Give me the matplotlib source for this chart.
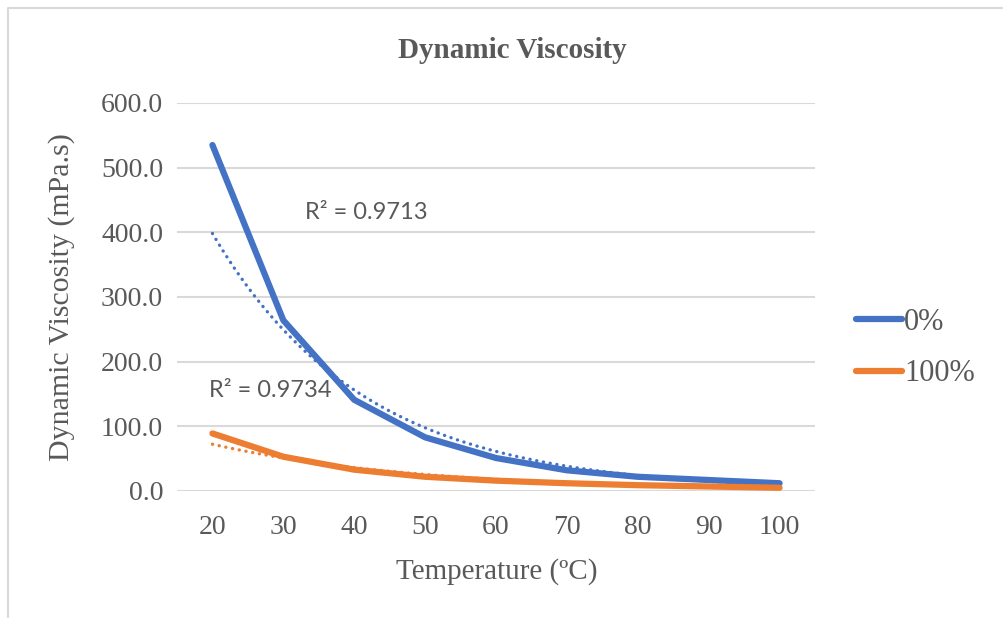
import numpy as np
import matplotlib.pyplot as plt
from matplotlib.lines import Line2D

temps = [20, 30, 40, 50, 60, 70, 80, 90, 100]
visc_0 = [535, 264, 141, 83, 51, 32, 22, 17, 12]
visc_100 = [89, 53, 33, 22, 16, 12, 9, 7, 5]
series_names = ["0%", "100%"]
r2_labels = ["R² = 0.9713", "R² = 0.9734"]
y_ticks = [0, 100, 200, 300, 400, 500, 600]

blue = "#4472C4"
orange = "#ED7D31"
grey = "#595959"
serif = "Liberation Serif"

fig = plt.figure(figsize=(10.04, 6.18), dpi=100)
ax = fig.add_axes([177 / 1004, 1 - 491 / 618, (815 - 177) / 1004, (491 - 103) / 618])

x = np.array(temps)
for ys, col in [(visc_0, blue), (visc_100, orange)]:
    ys = np.array(ys, dtype=float)
    # exponential trendline like Excel (fit on ln y)
    b, a = np.polyfit(x, np.log(ys), 1)
    xf = np.linspace(x[0], x[-1], 200)
    ax.plot(xf, np.exp(a + b * xf), color=col, lw=2.4, ls=(0, (0.05, 2.0)),
            dash_capstyle="round", zorder=3)
    ax.plot(x, ys, color=col, lw=4.5, solid_capstyle="round",
            solid_joinstyle="round", zorder=4)

ax.text(33, 430, r2_labels[0], fontsize=17, family="Lato", color=grey,
        ha="left", va="center")
ax.text(19.5, 155, r2_labels[1], fontsize=17, family="Lato", color=grey,
        ha="left", va="center")

ax.set_xlim(15, 105)
ax.set_ylim(0, 600)
ax.set_xticks(temps)
ax.set_yticks(y_ticks)
ax.set_yticklabels([f"{v:.1f}" for v in y_ticks])
ax.grid(axis="y", color="#D9D9D9", lw=1.5)
ax.set_axisbelow(True)
for s in ax.spines.values():
    s.set_visible(False)
ax.tick_params(length=0, labelsize=20, labelcolor=grey, pad=10)
for lab in ax.get_xticklabels() + ax.get_yticklabels():
    lab.set_family(serif)
ax.tick_params(axis="x", pad=17)

fig.text(62 / 1004, 1 - 297 / 618, "Dynamic Viscosity (mPa.s)", rotation=90,
         ha="center", va="center", fontsize=21.5, family=serif, color=grey)
fig.text(497 / 1004, 1 - 572 / 618, "Temperature (ºC)", ha="center",
         va="center", fontsize=21, family=serif, color=grey)
fig.text(512 / 1004, 1 - 50 / 618, "Dynamic Viscosity", ha="center",
         va="center", fontsize=21, family=serif, weight="bold", color=grey)

handles = [Line2D([], [], color=blue, lw=4.5, solid_capstyle="round"),
           Line2D([], [], color=orange, lw=4.5, solid_capstyle="round")]
leg = fig.legend(handles, series_names, loc="center left",
                 bbox_to_anchor=(856 / 1004, 1 - 348 / 618), frameon=False,
                 borderpad=0, borderaxespad=0,
                 handlelength=1.5, handletextpad=0.08, labelspacing=0.75,
                 prop={"family": serif, "size": 22})
for t in leg.get_texts():
    t.set_color(grey)

# chart border
fig.add_artist(Line2D([8 / 1004, 8 / 1004, 1], [0, 1 - 8 / 618, 1 - 8 / 618],
                      transform=fig.transFigure, color="#D9D9D9", lw=1.5))

fig.savefig("out.png", dpi=100)
